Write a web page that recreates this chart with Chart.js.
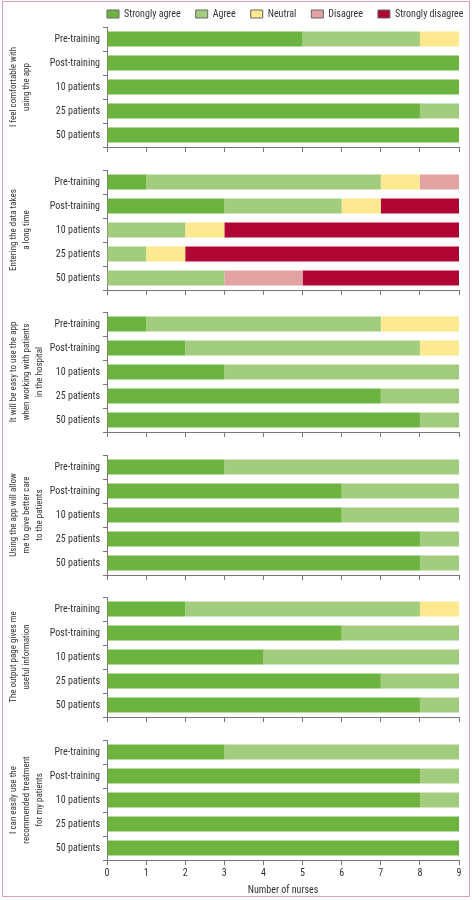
<!DOCTYPE html>
<html><head><meta charset="utf-8">
<script src="https://cdn.jsdelivr.net/npm/chart.js@4.4.1/dist/chart.umd.min.js"></script>
<style>
html,body{margin:0;padding:0;background:#fff;}
#wrap{position:relative;width:472px;height:900px;overflow:hidden;}
#frame{position:absolute;left:2px;top:1px;width:468px;height:896px;border:1px solid #df9fbb;box-sizing:border-box;}
canvas{position:absolute;}
</style></head><body>
<div id="wrap"><div id="frame"></div></div>
<script>
// ---- data ----
const categories = ['Pre-training', 'Post-training', '10 patients', '25 patients', '50 patients'];
const responseLabels = ['Strongly agree', 'Agree', 'Neutral', 'Disagree', 'Strongly disagree'];
const statements = [
  ['I feel comfortable with', 'using the app'],
  ['Entering the data takes', 'a long time'],
  ['It will be easy to use the app', 'when working with patients', 'in the hospital'],
  ['Using the app will allow', 'me to give better care', 'to the patients'],
  ['The output page gives me', 'useful information'],
  ['I can easily use the', 'recommended treatment', 'for my patients']
];
// one row per statement, values per category (number of nurses)
const stronglyAgree    = [[5,9,9,8,9],[1,3,0,0,0],[1,2,3,7,8],[3,6,6,8,8],[2,6,4,7,8],[3,8,8,9,9]];
const agree            = [[3,0,0,1,0],[6,3,2,1,3],[6,6,6,2,1],[6,3,3,1,1],[6,3,5,2,1],[6,1,1,0,0]];
const neutral          = [[1,0,0,0,0],[1,1,1,1,0],[2,1,0,0,0],[0,0,0,0,0],[1,0,0,0,0],[0,0,0,0,0]];
const disagree         = [[0,0,0,0,0],[1,0,0,0,2],[0,0,0,0,0],[0,0,0,0,0],[0,0,0,0,0],[0,0,0,0,0]];
const stronglyDisagree = [[0,0,0,0,0],[0,2,6,7,4],[0,0,0,0,0],[0,0,0,0,0],[0,0,0,0,0],[0,0,0,0,0]];
const xTicks = [0,1,2,3,4,5,6,7,8,9];

// ---- styles ----
const series = [stronglyAgree, agree, neutral, disagree, stronglyDisagree];
const colors = ['#6cb33f', '#a2cd7f', '#fde98f', '#e2a4a2', '#b00635'];
const axisColor = '#777';
const textColor = '#333';
const FONT = '"Roboto Condensed", "Liberation Sans Narrow", "DejaVu Sans Condensed", sans-serif';
Chart.defaults.font.family = FONT;
Chart.defaults.font.size = 10;
Chart.defaults.color = textColor;

const panelTop0 = 27, panelPitch = 142.6, areaH = 120;
const canvasLeft = 3, canvasW = 464;
const wrap = document.getElementById('wrap');

// ---- legend (its own chart, legend only) ----
(function () {
  const pad = 15;
  const cv = document.createElement('canvas');
  const W = 420, H = 60;
  cv.width = W; cv.height = H;
  cv.style.left = '0px'; cv.style.top = '0px';
  cv.style.width = W + 'px'; cv.style.height = H + 'px';
  wrap.appendChild(cv);
  const lg = new Chart(cv, {
    type: 'bar',
    data: { labels: [], datasets: responseLabels.map((lab, k) => ({ label: lab, data: [], backgroundColor: colors[k], borderColor: '#666', borderWidth: 1 })) },
    options: {
      responsive: false, maintainAspectRatio: false, animation: false, devicePixelRatio: 1,
      layout: { padding: 0 },
      scales: { x: { display: false }, y: { display: false } },
      plugins: {
        tooltip: { enabled: false },
        legend: {
          display: true, position: 'top', align: 'start', fullSize: true,
          labels: { boxWidth: 12, boxHeight: 8, padding: pad, color: textColor, font: { size: 10, family: FONT } }
        }
      }
    }
  });
  const hb = lg.legend.legendHitBoxes[0];
  cv.style.left = Math.round(107 - hb.left) + 'px';
  cv.style.top = Math.round(14 - (hb.top + hb.height / 2)) + 'px';
})();

statements.forEach((stmt, i) => {
  const last = i === statements.length - 1;
  const cv = document.createElement('canvas');
  cv.width = canvasW; cv.height = 200;
  cv.style.left = canvasLeft + 'px';
  cv.style.width = canvasW + 'px'; cv.style.height = '200px';
  wrap.appendChild(cv);
  const chart = new Chart(cv, {
    type: 'bar',
    data: {
      labels: categories,
      datasets: responseLabels.map((lab, k) => ({
        label: lab,
        data: series[k][i],
        backgroundColor: colors[k],
        borderWidth: 0,
        categoryPercentage: 1,
        barPercentage: 0.625
      }))
    },
    options: {
      indexAxis: 'y',
      responsive: false,
      maintainAspectRatio: false,
      animation: false,
      devicePixelRatio: 1,
      layout: { padding: { left: 0, right: 8, top: 4, bottom: 2 } },
      plugins: { tooltip: { enabled: false }, legend: { display: false } },
      scales: {
        x: {
          stacked: true, min: 0, max: 9,
          afterBuildTicks(s) { s.ticks = xTicks.map(v => ({ value: v })); },
          ticks: { display: last, color: textColor, padding: 2, font: { size: 10 }, maxRotation: 0 },
          grid: { drawOnChartArea: false, drawTicks: true, tickLength: 5, color: axisColor, lineWidth: 1 },
          border: { display: true, color: axisColor, width: 1 },
          title: { display: last, text: 'Number of nurses', color: textColor, font: { size: 10 }, padding: { top: 3, bottom: 0 } }
        },
        y: {
          stacked: true,
          afterFit(s) { s.width = 104; },
          ticks: { color: textColor, padding: 3, font: { size: 10 } },
          grid: { offset: true, drawOnChartArea: false, drawTicks: true, tickLength: 4, color: axisColor, lineWidth: 1 },
          border: { display: true, color: axisColor, width: 1 },
          title: { display: true, text: stmt, color: textColor, font: { size: 9, lineHeight: 1.45 }, padding: { top: 4, bottom: 0 } }
        }
      }
    }
  });
  // size canvas so plot area is exactly areaH tall, then place it
  const overhead = 200 - (chart.chartArea.bottom - chart.chartArea.top);
  const h = Math.round(areaH + overhead);
  cv.style.height = h + 'px';
  chart.resize(canvasW, h);
  const top = panelTop0 + panelPitch * i - chart.chartArea.top;
  cv.style.top = Math.round(top) + 'px';
});
</script>
</body></html>
